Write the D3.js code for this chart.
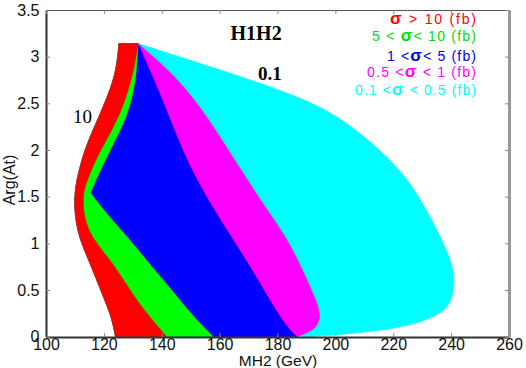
<!DOCTYPE html>
<html><head><meta charset="utf-8">
<script src="https://cdn.jsdelivr.net/npm/d3@7"></script>
<style>body{margin:0;background:#fff}svg{display:block}</style>
</head><body><svg id="c" width="526" height="368"></svg>
<script>
// ---- data (MH2 in GeV, Arg(At) in rad) ----
const xTicks = [100,120,140,160,180,200,220,240,260];
const yTicks = [0,0.5,1,1.5,2,2.5,3,3.5];
// outer left edge of allowed region, bottom -> top
const leftEdge = [[124.0,0],[122.7,0.21],[119.8,0.43],[115.2,0.79],[111.7,1.04],[110.2,1.25],[109.7,1.47],[110.6,1.68],[112.3,1.89],[114.7,2.11],[119.4,2.43],[123.5,2.75],[124.7,2.97],[125.2,3.14]];
// right edges of each band, top apex -> bottom
const redEdge = [[131.8,3.14],[130.4,2.86],[128.0,2.59],[124.9,2.34],[121.4,2.14],[117.6,1.92],[114.9,1.73],[113.1,1.57],[112.8,1.47],[113.1,1.30],[114.9,1.12],[118.7,0.95],[123.5,0.77],[130.4,0.43],[135.9,0.21],[141.7,0]];
const greenEdge = [[131.8,3.14],[131.4,2.86],[130.1,2.59],[127.6,2.34],[124.5,2.14],[121.1,1.93],[118.0,1.73],[115.4,1.54],[115.4,1.54],[115.4,1.54],[121.4,1.30],[127.6,1.09],[135.2,0.80],[143.5,0.50],[150.4,0.23],[157.8,0]];
const blueEdge = [[131.8,3.14],[136.6,2.80],[141.1,2.47],[145.6,2.11],[150.8,1.75],[157.4,1.39],[164.6,1.04],[171.9,0.68],[178.4,0.33],[183.3,0.10],[186.6,0]];
const magentaEdge = [[131.8,3.14],[143.5,2.83],[153.2,2.47],[160.8,2.11],[168.1,1.75],[175.7,1.39],[183.6,1.04],[189.2,0.68],[193.3,0.39],[194.9,0.24],[194.0,0.12],[191.2,0.05],[186.7,0]];
const cyanEdge = [[131.8,3.14],[153.2,2.93],[173.9,2.72],[187.8,2.56],[198.1,2.41],[208.5,2.19],[219.9,1.87],[226.5,1.62],[232.0,1.33],[236.5,1.06],[239.9,0.82],[241.3,0.63],[240.6,0.39],[236.1,0.22],[222.3,0.09],[205.0,0.03],[191.2,0]];
const bandColors = ["#00ffff","#ff00ff","#0000ff","#00ff00","#ff0000"];
const legendLabels = ["σ  > 10 (fb)","5 < σ< 10 (fb)","1 <σ< 5 (fb)","0.5 <σ < 1  (fb)","0.1 <σ < 0.5 (fb)"];
const legendColors = ["#ff0000","#00e000","#0000ee","#ff00ff","#00ffff"];

// ---- drawing ----
const svg = d3.select("#c");
const x = d3.scaleLinear().domain([100,260]).range([46,509]);
const y = d3.scaleLinear().domain([0,3.5]).range([336.7,10]);
const line = d3.line().x(d=>x(d[0])).y(d=>y(d[1])).curve(d3.curveBasis);
const edges = [cyanEdge, magentaEdge, blueEdge, greenEdge, redEdge];
edges.forEach((e,i)=>{
  svg.append("path")
    .attr("d", line(leftEdge) + line(e).replace(/^M/,"L") + "Z")
    .attr("fill", bandColors[i]).attr("stroke", bandColors[i]).attr("stroke-width",0.5);
});

const font = "'Liberation Sans', Arial, Helvetica, sans-serif";
// axes
const gx = svg.append("g").attr("transform","translate(0,337)")
  .call(d3.axisBottom(x).tickValues(xTicks).tickSizeInner(-4).tickSizeOuter(0).tickPadding(1.8).tickFormat(d3.format("d")));
const gy = svg.append("g").attr("transform","translate(46,0)")
  .call(d3.axisLeft(y).tickValues(yTicks).tickSizeInner(-4).tickSizeOuter(0).tickPadding(6.5).tickFormat(d=>d));
const gt = svg.append("g").attr("transform","translate(0,10)")
  .call(d3.axisTop(x).tickValues(xTicks).tickSizeInner(-4).tickSizeOuter(0).tickFormat(""));
const gr = svg.append("g").attr("transform","translate(509,0)")
  .call(d3.axisRight(y).tickValues(yTicks).tickSizeInner(-4).tickSizeOuter(0).tickFormat(""));
[gx,gy,gt,gr].forEach(g=>{
  g.selectAll("text").attr("font-family",font).attr("font-size",16).attr("fill","#111");
  g.selectAll(".tick line").attr("stroke","#888").attr("stroke-width",1);
});
gx.select(".domain").attr("stroke","#333").attr("stroke-width",2);
gy.select(".domain").attr("stroke","#333").attr("stroke-width",2);
gt.select(".domain").attr("stroke","#555").attr("stroke-width",1.2);
gr.select(".domain").attr("stroke","#999").attr("stroke-width",3);

// axis titles
svg.append("text").attr("x",278).attr("y",366).attr("text-anchor","middle")
  .attr("font-family",font).attr("font-size",15.5).attr("fill","#111").text("MH2 (GeV)");
svg.append("text").attr("transform","translate(15,180) rotate(-90)").attr("text-anchor","middle")
  .attr("font-family",font).attr("font-size",16).attr("fill","#111").text("Arg(At)");

// annotations
const serif = "'Liberation Serif', 'DejaVu Serif', Times, serif";
svg.append("text").attr("x",x(172.6)).attr("y",y(3.18)).attr("text-anchor","middle")
  .attr("font-family",serif).attr("font-weight","bold").attr("font-size",20).attr("fill","#000").text("H1H2");
svg.append("text").attr("x",x(173.3)).attr("y",y(2.75))
  .attr("font-family",serif).attr("font-weight","bold").attr("font-size",19).attr("fill","#000").text("0.1");
svg.append("text").attr("x",x(109.3)).attr("y",y(2.29))
  .attr("font-family",serif).attr("font-size",19).attr("fill","#000").text("10");

// legend
const legendBase = [24,41,61,77,95];
const legendWidth = [86,104,89,109,121];
legendLabels.forEach((s,i)=>{
  const t = svg.append("text").attr("x",476).attr("y",legendBase[i]).attr("text-anchor","end")
    .attr("font-family",font).attr("font-size",14).attr("fill",legendColors[i])
    .attr("textLength",legendWidth[i]).attr("lengthAdjust","spacing");
  const parts = s.split("σ");
  parts.forEach((p,j)=>{
    if (j>0) t.append("tspan").attr("font-size",17).attr("font-weight","bold").text("σ");
    t.append("tspan").text(p);
  });
});
</script></body></html>
